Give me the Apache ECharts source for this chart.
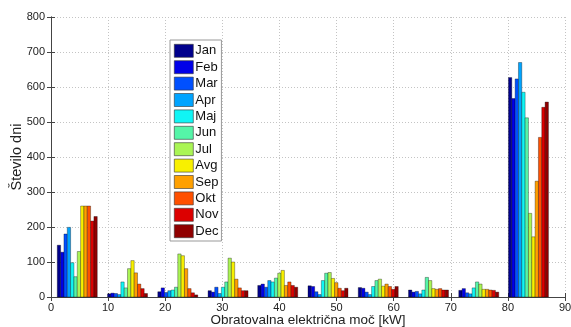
<!DOCTYPE html>
<html>
<head>
<meta charset="utf-8">
<script src="https://cdn.jsdelivr.net/npm/echarts@6/dist/echarts.min.js"></script>
<style>
  html, body { margin: 0; padding: 0; background: #fff; }
  #chart { width: 571px; height: 327px; }
</style>
</head>
<body>
<div id="chart"></div>
<script>
// Power bins (kW) - centre of each group of monthly bars
const binCenters = [4.6, 13.4, 22.2, 31.0, 39.7, 48.5, 57.3, 66.1, 74.9, 83.6];
const groupWidth = 7.0;

const months = ['Jan', 'Feb', 'Mar', 'Apr', 'Maj', 'Jun', 'Jul', 'Avg', 'Sep', 'Okt', 'Nov', 'Dec'];

// Number of days per power bin, one list per month
const jan = [148,  9, 15,  18, 33, 32, 27, 20, 19, 627];
const feb = [128, 11, 26,  14, 37, 30, 25, 14, 24, 567];
const mar = [180, 10, 13,  28, 28, 15, 14, 16, 12, 623];
const apr = [199,  7, 18,  10, 47,  7,  7,  9,  9, 670];
const maj = [ 98, 43, 20,  28, 43, 47, 30, 20, 26, 585];
const jun = [ 58, 26, 28,  43, 54, 68, 47, 56, 43, 512];
const jul = [130, 81, 123, 111, 68, 70, 51, 47, 37, 239];
const avg = [260, 104, 118, 100, 76, 53, 31, 24, 22, 172];
const sep = [260, 69, 81,  51, 33, 41, 37, 22, 22, 331];
const okt = [260, 37, 24,  26, 43, 25, 30, 24, 20, 456];
const nov = [217, 24, 12,  18, 33, 18, 22, 20, 19, 542];
const dec = [230, 10,  6,  18, 28, 25, 30, 20, 14, 557];
const monthValues = [jan, feb, mar, apr, maj, jun, jul, avg, sep, okt, nov, dec];

// jet-like colour map, dark blue -> dark red
const colors = ['#00008c', '#0000e8', '#0050ff', '#00a4ff', '#10f5f5', '#55f5a8',
                '#aaf555', '#f8f000', '#ffa000', '#ff5000', '#dc0000', '#900000'];

const FONT = 'Liberation Sans, Arial, sans-serif';

const slot = groupWidth / months.length;

const series = months.map((name, m) => ({
  name: name,
  type: 'custom',
  itemStyle: { color: colors[m] },
  encode: { x: 0, y: 1 },
  data: binCenters.map((c, i) => [c, monthValues[m][i]]),
  renderItem: function (params, api) {
    const c = api.value(0);
    const v = api.value(1);
    const x0 = c - groupWidth / 2 + m * slot;
    const pTop = api.coord([x0, v]);
    const pBot = api.coord([x0 + slot, 0]);
    return {
      type: 'rect',
      shape: { x: pTop[0], y: pTop[1], width: pBot[0] - pTop[0], height: pBot[1] - pTop[1] },
      style: { fill: colors[m], stroke: 'rgba(0,0,0,0.55)', lineWidth: 0.6 }
    };
  }
}));

const axisLine = { show: true, lineStyle: { color: '#444', width: 1 } };
const splitLine = { show: true, lineStyle: { color: '#c4c4c4', type: [1, 2], width: 1 } };
const tick = { show: true, inside: true, length: 4, lineStyle: { color: '#444' } };

const chart = echarts.init(document.getElementById('chart'), null, { renderer: 'canvas' });
chart.setOption({
  animation: false,
  backgroundColor: '#fff',
  textStyle: { fontFamily: FONT },
  grid: { left: 51, right: 6, top: 17, bottom: 30, containLabel: false, outerBoundsMode: 'none' },
  legend: {
    orient: 'vertical',
    left: 170,
    top: 40,
    icon: 'rect',
    itemWidth: 19,
    itemHeight: 13,
    itemGap: 2.8,
    padding: [4, 3, 3, 4],
    backgroundColor: '#fff',
    borderColor: '#999',
    borderWidth: 1,
    borderRadius: 0,
    itemStyle: { borderColor: '#333', borderWidth: 0.6 },
    textStyle: { fontFamily: FONT, fontSize: 13, color: '#111', padding: [0, 0, 0, -3], lineHeight: 13 },
    data: months
  },
  xAxis: [
    {
      type: 'value', min: 0, max: 90, interval: 10,
      name: 'Obratovalna električna moč [kW]',
      nameLocation: 'middle', nameGap: 16, nameMoveOverlap: false,
      nameTextStyle: { fontFamily: FONT, fontSize: 13.5, color: '#222' },
      axisLine: axisLine,
      axisTick: tick,
      axisLabel: { fontFamily: FONT, fontSize: 11, color: '#222', margin: 5 },
      splitLine: splitLine
    },
    {
      type: 'value', min: 0, max: 90, interval: 10, position: 'top',
      axisLine: axisLine,
      axisTick: tick,
      axisLabel: { show: false },
      splitLine: { show: false }
    }
  ],
  yAxis: [
    {
      type: 'value', min: 0, max: 800, interval: 100,
      name: 'Število dni',
      nameLocation: 'middle', nameGap: 27, nameRotate: 90, nameMoveOverlap: false,
      nameTextStyle: { fontFamily: FONT, fontSize: 14.5, color: '#222' },
      axisLine: axisLine,
      axisTick: tick,
      axisLabel: { fontFamily: FONT, fontSize: 11, color: '#222', margin: 6 },
      splitLine: splitLine
    },
    {
      type: 'value', min: 0, max: 800, interval: 100, position: 'right',
      axisLine: axisLine,
      axisTick: tick,
      axisLabel: { show: false },
      splitLine: { show: false }
    }
  ],
  series: series
});
</script>
</body>
</html>
